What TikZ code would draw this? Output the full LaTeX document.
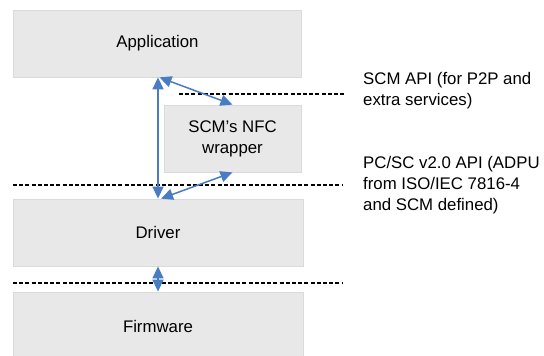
\documentclass[tikz,border=0pt]{standalone}
\usepackage{fontspec}
\setmainfont{Liberation Sans}
\usetikzlibrary{arrows.meta}
\definecolor{boxfill}{HTML}{E8E8E8}
\definecolor{boxline}{HTML}{DADADA}
\definecolor{arrblue}{HTML}{4A7CC4}
\begin{document}
\begin{tikzpicture}[x=1pt,y=-1pt,
  layer/.style={draw=boxline, fill=boxfill, line width=0.8pt, inner sep=0pt,
    font=\fontsize{16.8}{21}\selectfont, align=center},
  note/.style={anchor=west, inner sep=0pt, align=left,
    font=\fontsize{16.8}{21}\selectfont},
  sep/.style={draw=black, line width=1.2pt, dash pattern=on 4pt off 2.2pt},
  link/.style={color=arrblue, line width=1.5pt,
    {Triangle[length=12pt,width=11pt]}-{Triangle[length=12pt,width=11pt]}}]
\useasboundingbox (0,0) rectangle (544,356);
\clip (0,0) rectangle (544,356);
\fill[white] (0,0) rectangle (544,356);
% layers
\node[layer, minimum width=288pt, minimum height=67pt] (app) at (157.5,43.5) {Application};
\node[layer, minimum width=137pt, minimum height=67pt] (wrap) at (232.5,138.5) {SCM’s NFC\\wrapper};
\node[layer, minimum width=290pt, minimum height=67pt] (drv) at (158,232.5) {Driver};
\node[layer, minimum width=290pt, minimum height=80pt] (fw) at (158,332) {};
\node[font=\fontsize{16.8}{21}\selectfont] (fwt) at (158,326) {Firmware};
% separators
\coordinate (s1a) at (179,94);  \coordinate (s1b) at (346,94);
\coordinate (s2a) at (13,185);  \coordinate (s2b) at (343,185);
\coordinate (s3a) at (13,283);  \coordinate (s3b) at (343,283);
\draw[sep] (s1a) -- (s1b);
\draw[sep] (s2a) -- (s2b);
\draw[sep] (s3a) -- (s3b);
% notes
\node[note] (n1) at (363,90.5) {SCM API (for P2P and\\extra services)};
\node[note] (n2) at (363,185) {PC/SC v2.0 API (ADPU\\from ISO/IEC 7816-4\\and SCM defined)};
% connectors
\draw[link] (drv.north |- app.south) -- (drv.north);
\draw[link] ([xshift=2pt]app.south) -- (wrap.north);
\draw[link] (wrap.south) -- ([xshift=3pt]drv.north);
\draw[link] (drv.south) -- (fw.north);
\end{tikzpicture}
\end{document}
